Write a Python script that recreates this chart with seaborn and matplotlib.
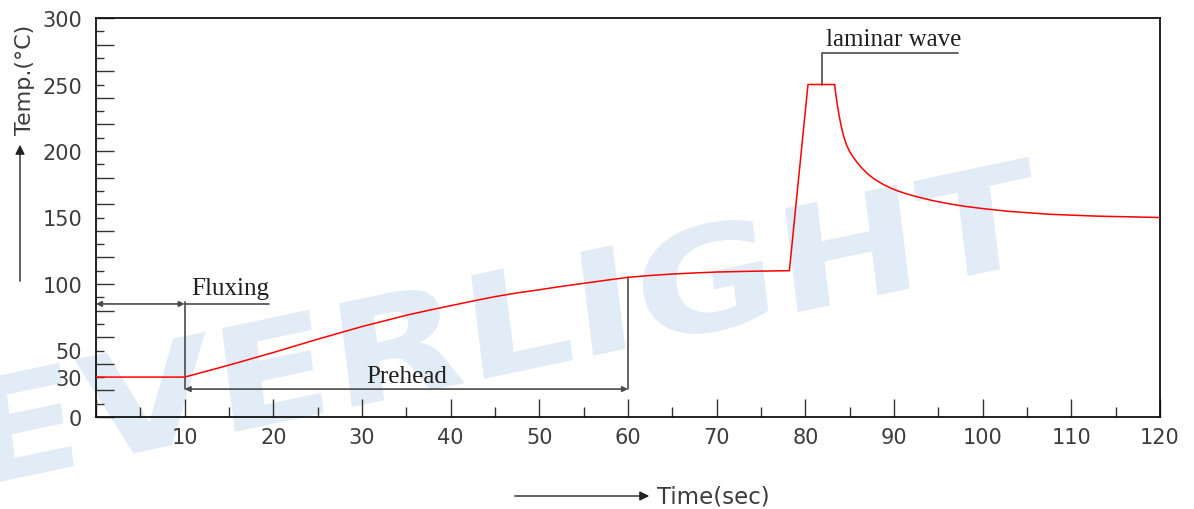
import matplotlib
matplotlib.use("Agg")
import matplotlib.pyplot as plt
from matplotlib.textpath import TextPath
from matplotlib.patches import PathPatch, FancyArrowPatch
from matplotlib.font_manager import FontProperties
from matplotlib.transforms import Affine2D
import seaborn as sns
import pandas as pd

# Wave soldering profile
time_s = [0, 10, 15, 20, 25, 30, 35, 37.5, 40, 42.5, 45, 47.5, 50, 52.5, 55, 57.5,
          60, 62.5, 65, 67.5, 70, 74, 78.2,
          80.3, 83.3, 83.45, 83.6, 83.8, 84.05, 84.3, 84.65, 85, 85.4, 85.8, 86.4,
          87, 87.8, 88.8, 89.6, 90.5, 91.5, 92.6, 94.3, 96.3, 98, 100, 103,
          107.6, 113, 120]
temp_c = [30, 30, 39, 48.5, 58.5, 68, 76.5, 80.2, 83.7, 87.2, 90.5, 93.3, 95.7, 98.2, 100.5, 102.8,
          105, 106.4, 107.5, 108.3, 109, 109.6, 110,
          250, 250, 242, 235, 227, 218.5, 211.5, 204.5, 199.5, 195.4, 191.7, 187,
          183, 178.8, 174.8, 172.2, 169.8, 167.6, 165.6, 162.8, 160.2, 158.4, 156.7, 154.6,
          152.4, 151, 150]

x_major = list(range(0, 121, 10))
x_labels = [""] + [str(v) for v in range(10, 121, 10)]
x_minor = list(range(5, 120, 10))
y_major = list(range(0, 301, 20))
y_minor = list(range(10, 300, 20))
y_shown = [0, 30, 50, 100, 150, 200, 250, 300]

df = pd.DataFrame({"time": time_s, "temp": temp_c})

sns.set_style("white")
plt.rcParams["font.family"] = ["DejaVu Sans"]

W, H = 1194, 510
fig = plt.figure(figsize=(W / 100, H / 100), dpi=100)
ax = fig.add_axes([96 / W, 1 - 418 / H, (1160 - 96) / W, (418 - 19) / H])
ax.patch.set_alpha(0)

# watermark, drawn in pixel coordinates behind the axes
tp = TextPath((0, 0), "EVERLIGHT", size=100,
              prop=FontProperties(family="DejaVu Sans", weight="bold"))
bb = tp.get_extents()
wm_tr = (Affine2D().translate(-bb.x0, 0).scale(1080 / bb.width, 108 / bb.height)
         .skew_deg(5, 0).rotate_deg(12).translate(-15, 24))
fig.add_artist(PathPatch(tp, transform=wm_tr, facecolor="#e2ecf6", edgecolor="none", zorder=-1))

sns.lineplot(data=df, x="time", y="temp", ax=ax, color="red", lw=1.1, zorder=3)

ax.set_xlim(0, 120)
ax.set_ylim(0, 300)
ax.set_xlabel("")
ax.set_ylabel("")

ax.set_xticks(x_major, labels=x_labels)
ax.set_xticks(x_minor, minor=True)
ax.set_yticks(y_major, labels=[str(v) if v in y_shown else "" for v in y_major])
ax.set_yticks(y_minor, labels=[str(v) if v in y_shown else "" for v in y_minor], minor=True)

lab = dict(labelsize=15, labelcolor="#3c3c3c")
ax.tick_params(axis="x", which="major", direction="in", length=13, width=1, color="#333", pad=7, **lab)
ax.tick_params(axis="x", which="minor", direction="in", length=7, width=1, color="#333")
ax.tick_params(axis="y", which="major", direction="in", length=13, width=1, color="#333", pad=10, **lab)
ax.tick_params(axis="y", which="minor", direction="in", length=6, width=1, color="#333", pad=10, **lab)
ax.tick_params(bottom=True, left=True, which="both")

for sp in ax.spines.values():
    sp.set_color("#111")
    sp.set_linewidth(1.3)

ann = dict(color="#4a4a4a", lw=1.2)
arr = dict(arrowstyle="<|-|>", mutation_scale=8, shrinkA=0, shrinkB=0, **ann)
serif = "Liberation Serif"

# Fluxing
ax.annotate("", xy=(0, 85), xytext=(10, 85), arrowprops=arr)
ax.plot([10, 19.5], [85, 85], **ann)
ax.plot([10, 10], [86.5, 21], **ann)
ax.text(10.7, 89, "Fluxing", family=serif, fontsize=18, color="#1e1e1e", va="bottom")

# Prehead
ax.annotate("", xy=(10, 21), xytext=(60, 21), arrowprops=arr)
ax.plot([60, 60], [21, 105], **ann)
ax.text(35, 22.5, "Prehead", family=serif, fontsize=18, color="#1e1e1e", ha="center", va="bottom")

# laminar wave
ax.plot([81.9, 81.9, 97.2], [250, 274, 274], **ann)
ax.text(82.3, 276, "laminar wave", family=serif, fontsize=18, color="#1e1e1e", va="bottom")

# axis titles with arrows
fig.text(25 / W, 1 - 80 / H, "Temp.(°C)", rotation=90, fontsize=16, color="#3c3c3c",
         ha="center", va="center")
fig.add_artist(FancyArrowPatch((20 / W, 1 - 285 / H), (20 / W, 1 - 143 / H),
                               transform=fig.transFigure, arrowstyle="-|>",
                               mutation_scale=14, color="#222", lw=1))
fig.text(657 / W, 1 - 497 / H, "Time(sec)", fontsize=16.5, color="#3c3c3c",
         ha="left", va="center")
fig.add_artist(FancyArrowPatch((512 / W, 1 - 497 / H), (652 / W, 1 - 497 / H),
                               transform=fig.transFigure, arrowstyle="-|>",
                               mutation_scale=14, color="#222", lw=1))

fig.savefig("out.png", dpi=100)
